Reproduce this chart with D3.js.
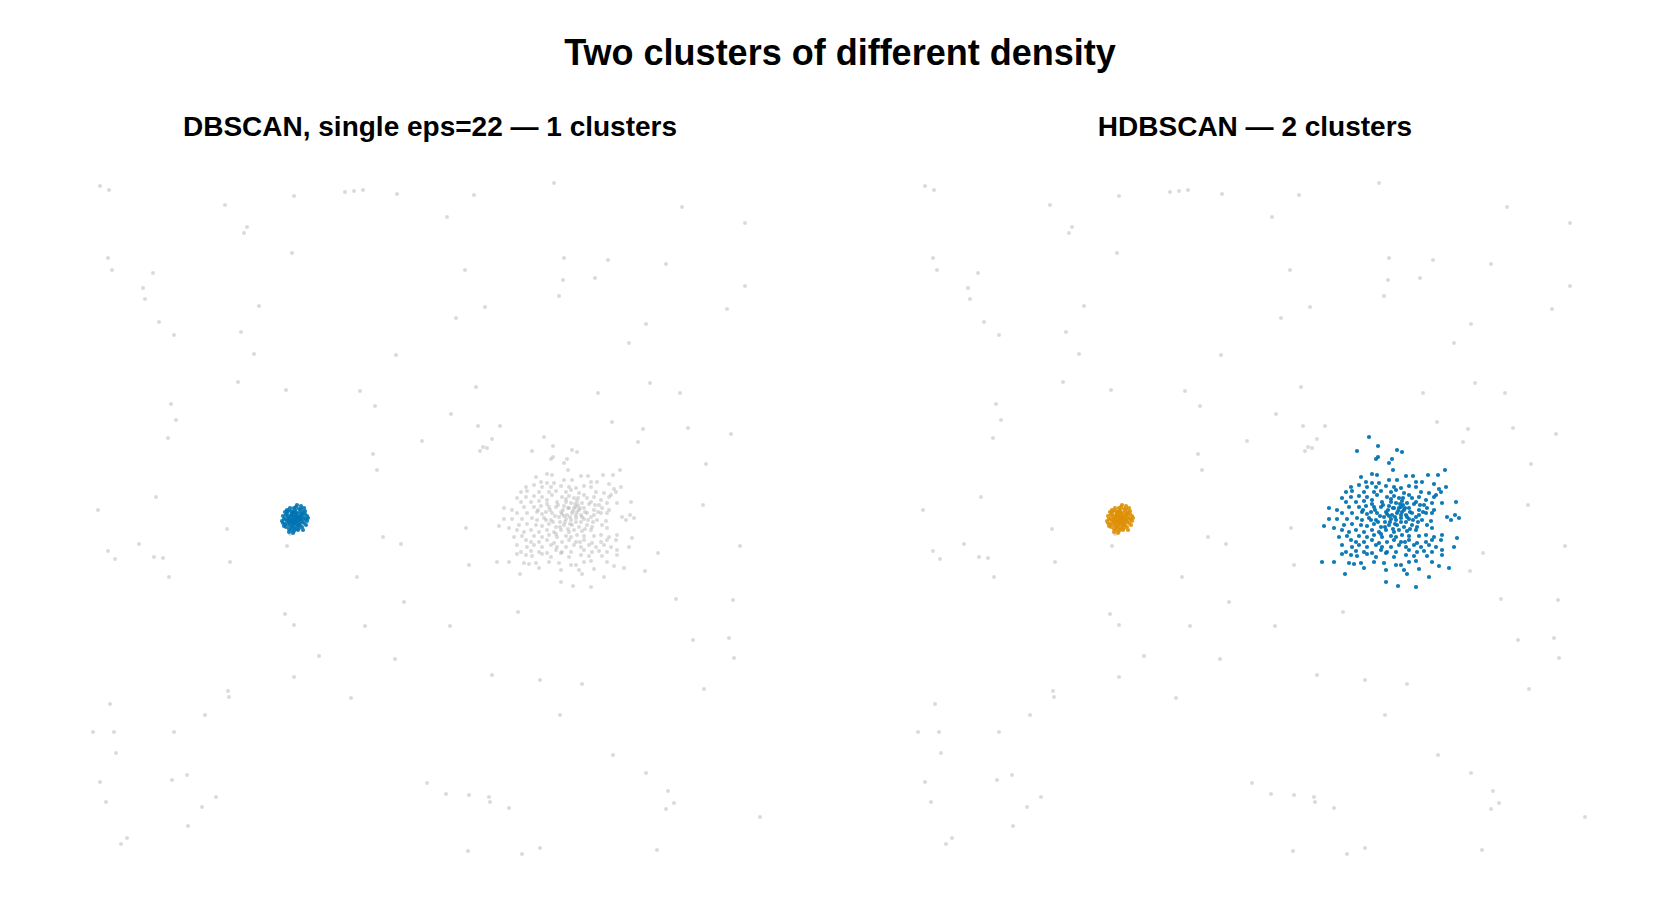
<!DOCTYPE html>
<html>
<head>
<meta charset="utf-8">
<script src="https://cdn.jsdelivr.net/npm/d3@7"></script>
<style>
  html, body { margin: 0; padding: 0; background: #fff; }
  svg text { font-family: "Liberation Sans", Arial, sans-serif; font-weight: bold; fill: #000; }
</style>
</head>
<body>
<svg id="chart"></svg>
<script>
// background noise points (feature units)
const noisePoints = [
  [10,674],[19,670],[135,655],[204,664],[255,668],[264,669],[273,670],[307,666],
  [157,633],[154,627],[202,607],[18,602],[22,590],[63,587],[53,572],[55,561],
  [169,554],[69,538],[84,525],[151,528],[164,506],[306,505],[148,478],[196,470],
  [270,469],[285,454],[81,456],[86,440],[78,422],[332,419],[283,406],[287,390],
  [66,363],[8,350],
  [464,677],[384,665],[592,653],[357,643],[655,637],[474,602],[518,600],[576,596],
  [375,590],[473,580],[505,582],[655,574],[469,564],[395,553],[366,542],[637,551],
  [556,536],[539,517],[386,473],[560,477],[508,467],[590,467],[361,446],[388,434],
  [410,434],[522,438],[553,431],[598,432],[641,426],[402,421],[390,409],[393,413],
  [397,412],[548,418],[616,396],[613,355],
  [376,332],[650,314],[568,307],[379,295],[555,289],[586,261],[643,260],[428,248],
  [360,234],[603,220],[639,222],[644,202],[402,185],[450,180],[492,176],[614,171],
  [470,145],[523,105],[556,87],[578,69],[584,57],[576,51],[356,66],[379,65],
  [399,63],[400,58],[419,52],[670,43],[378,9],[432,6],[450,12],[567,10],
  [137,331],[49,316],[18,309],[25,301],[64,303],[73,302],[79,283],[140,298],
  [200,326],[197,314],[293,323],[311,316],[267,283],[314,258],[195,246],[204,235],
  [275,234],[229,204],[305,201],[204,183],[138,169],[139,163],[261,162],[20,156],
  [115,145],[3,128],[24,128],[84,128],[26,107],[10,78],[82,80],[97,85],
  [337,77],[16,58],[126,63],[112,53],[98,34],[37,22],[31,16]
];

// tight, dense cluster
const denseCluster = [
  [205,341],[203,343],[207,339],[201,338],[209,344],[204,336],[206,346],[199,342],
  [211,340],[202,347],[208,335],[197,339],[213,343],[200,334],[210,348],[196,345],
  [214,337],[205,350],[204,332],[198,349],[212,333],[195,336],[215,346],[207,343],
  [203,338],[201,345],[209,337],[206,341],[202,340],[208,342],[200,341],[210,341],
  [205,344],[205,338],[194,341],[216,341],[199,331],[211,351],[217,339],[193,344],
  [206,353],[204,329],[215,349],[196,333],[213,330],[197,350],[203,348],[207,334],
  [212,346],[198,336],[207,355],[203,327],
  [200,337],[202,344],[204,340],[206,337],[208,339],[210,343],[207,347],[203,345],
  [199,339],[201,349],[209,351],[212,338],[214,341],[196,341],[198,344],[204,352],
  [206,331],[202,333],[210,335],[213,348],[195,348],[217,344],[192,339],[200,352],
  [208,330],[216,335],[194,334],[211,354],[199,328],[214,352],[197,347],[211,345],
  [201,330],[209,332],[193,337],[218,342],[205,348],[203,335]
];

// wide, sparse cluster
const sparseCluster = [
  [454,423],[463,414],[442,409],[482,410],[487,408],[463,403],[461,401],[477,401],
  [474,397],[478,390],[457,386],[462,385],[446,383],[491,384],[498,384],[513,385],
  [523,385],[530,390],[451,378],[457,377],[464,377],[474,380],[482,380],[501,378],
  [507,378],[519,376],[436,373],[444,375],[452,373],[461,373],[471,374],[479,373],
  [486,372],[494,374],[501,373],[524,371],[531,373],[431,368],[437,369],[449,368],
  [459,368],[466,369],[476,368],[481,370],[489,367],[506,368],[514,367],[521,365],
  [526,368],[427,362],[436,363],[444,364],[452,363],[462,365],[472,363],[479,364],
  [484,362],[494,365],[497,362],[504,363],[511,360],[519,363],[431,358],[441,358],
  [449,359],[457,360],[467,358],[476,358],[481,357],[487,359],[492,357],[501,358],
  [509,355],[517,357],[527,357],[541,358],[414,352],[422,350],[434,353],[444,353],
  [451,354],[459,353],[466,353],[474,354],[479,352],[486,353],[489,350],[494,352],
  [504,350],[512,352],[519,350],[427,347],[437,347],[447,348],[456,348],[462,347],
  [471,348],[477,345],[482,347],[487,348],[491,345],[497,347],[504,345],[511,347],
  [517,347],[532,343],[540,345],[544,342],[536,340],[414,341],[422,341],[432,341],
  [442,342],[447,340],[454,342],[461,340],[469,343],[476,341],[481,340],[486,342],
  [494,341],[501,343],[507,340],[516,339],[409,334],[419,332],[429,335],[437,336],
  [446,335],[452,334],[459,336],[466,333],[474,335],[482,335],[489,333],[497,335],
  [502,333],[512,335],[517,332],[427,330],[434,328],[441,330],[449,328],[457,330],
  [464,328],[471,330],[479,328],[484,330],[492,329],[501,330],[424,323],[432,324],
  [444,324],[452,323],[459,325],[467,323],[476,324],[481,323],[487,325],[494,324],
  [504,324],[511,325],[519,323],[527,325],[436,320],[441,318],[449,318],[457,320],
  [464,317],[472,318],[479,320],[486,318],[494,320],[502,317],[511,318],[517,320],
  [526,320],[542,322],[427,315],[437,313],[444,315],[452,313],[461,315],[467,313],
  [476,313],[484,315],[491,313],[499,315],[506,313],[514,315],[521,313],[539,313],
  [431,308],[441,309],[449,308],[457,307],[466,310],[472,308],[481,308],[494,310],
  [502,308],[509,309],[517,308],[527,310],[427,306],[436,305],[442,304],[452,306],
  [461,303],[471,307],[479,303],[491,305],[499,304],[512,304],[527,305],[407,298],
  [419,298],[434,297],[439,296],[446,297],[459,298],[469,297],[481,295],[486,295],
  [494,298],[501,299],[517,298],[524,294],[430,286],[449,292],[471,290],[489,290],
  [492,286],[504,291],[514,283],[534,292],[471,278],[483,274],[501,273],
  [478,352],[483,349],[486,345],[473,350],[488,355],[480,343],[470,338],[491,338],
  [468,355],[472,346],[485,356],[490,352],[495,348],[499,356],[465,344],[460,350],
  [475,338],[480,336],[492,343],[498,340],[484,352],[476,361],[488,362],[470,333],
  [463,338],[452,346],[505,355],[508,348],[457,356],[448,350],[486,338],[478,331],
  [495,331],[466,326],[490,318],[456,340],[503,338],[474,344]
];

const chartTitle = 'Two clusters of different density';
const panelTitles = ['DBSCAN, single eps=22 \u2014 1 clusters', 'HDBSCAN \u2014 2 clusters'];

const BLUE = '#0173b2', ORANGE = '#de8f05', GREY = '#a8a8a8';

const width = 1680, height = 920;
const svg = d3.select('#chart').attr('width', width).attr('height', height);

svg.append('text')
  .attr('x', width / 2).attr('y', 65)
  .attr('text-anchor', 'middle')
  .attr('font-size', 36)
  .text(chartTitle);

const panels = [
  { left: 90,  title: panelTitles[0],
    layers: [
      { data: noisePoints,   fill: GREY, op: 0.42, r: 2 },
      { data: sparseCluster, fill: GREY, op: 0.42, r: 2 },
      { data: denseCluster,  fill: BLUE, op: 0.9, r: 2.1 }
    ] },
  { left: 915, title: panelTitles[1],
    layers: [
      { data: noisePoints,   fill: GREY, op: 0.42, r: 2 },
      { data: denseCluster,  fill: ORANGE, op: 0.9, r: 2.1 },
      { data: sparseCluster, fill: BLUE, op: 0.95, r: 2.1 }
    ] }
];

panels.forEach(p => {
  const x = d3.scaleLinear().domain([0, 680]).range([p.left, p.left + 680]);
  const y = d3.scaleLinear().domain([0, 700]).range([860, 160]);

  svg.append('text')
    .attr('x', (x.range()[0] + x.range()[1]) / 2).attr('y', 136)
    .attr('text-anchor', 'middle')
    .attr('font-size', 28)
    .text(p.title);

  const g = svg.append('g');
  p.layers.forEach(l => {
    g.append('g')
      .selectAll('circle')
      .data(l.data)
      .join('circle')
        .attr('cx', d => x(d[0]))
        .attr('cy', d => y(d[1]))
        .attr('r', l.r)
        .attr('fill', l.fill)
        .attr('fill-opacity', l.op);
  });
});
</script>
</body>
</html>
